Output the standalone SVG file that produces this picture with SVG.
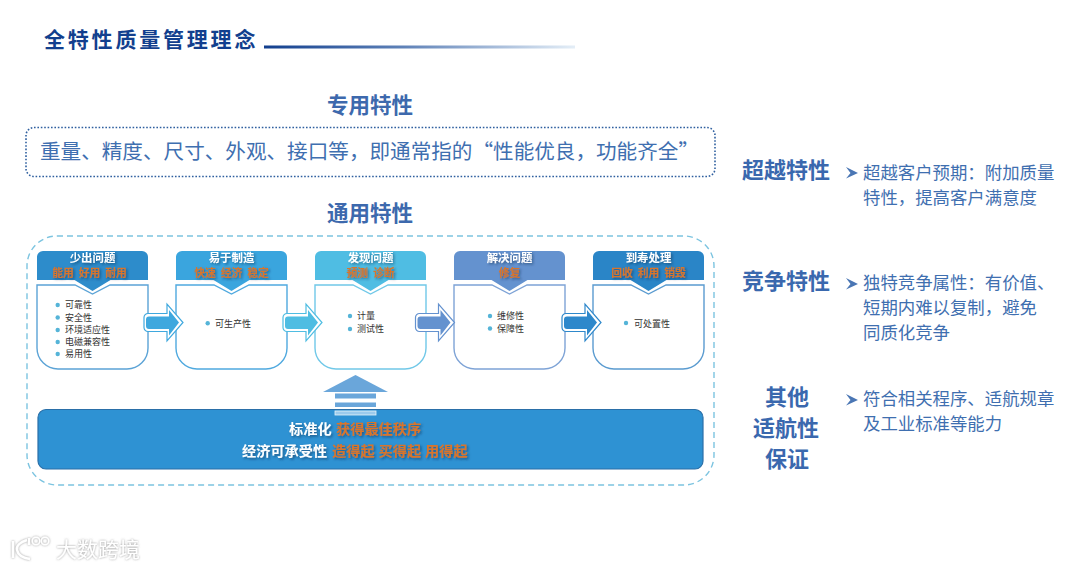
<svg xmlns="http://www.w3.org/2000/svg" width="1080" height="569" viewBox="0 0 1080 569">
<style>
text{font-family:"Noto Sans CJK SC","Noto Sans",sans-serif}
.h{font-size:21.5px;font-weight:700;fill:#3d69ad;text-anchor:middle}
.s{font-size:22px;font-weight:700;fill:#3a68ae;text-anchor:middle}
.r{font-size:17.4px;fill:#3f6fb0}
.ct{font-size:11.400px;font-weight:700;fill:#fff;text-anchor:middle;filter:url(#sh)}
.co{font-size:10.800px;font-weight:700;fill:#d9752b;text-anchor:middle;word-spacing:2.500px;filter:url(#sh)}
.li{font-size:9px;fill:#333}
.dot{fill:#55b4d8}
.bw{font-size:14.2px;font-weight:700;fill:#fff;filter:url(#sh)}
.bo{font-size:14.2px;font-weight:700;fill:#d9752b;filter:url(#sh)}
.chev{fill:#4a76b4;stroke:none}
.body{fill:#fff;stroke-width:1.4}
</style>
<defs>
<linearGradient id="lg"><stop offset="0" stop-color="#123f8e"/><stop offset="0.45" stop-color="#5f82b8"/><stop offset="1" stop-color="#e4eef7"/></linearGradient>
<filter id="sh" x="-20%" y="-30%" width="140%" height="170%"><feDropShadow dx="1.500" dy="1.500" stdDeviation="1.200" flood-color="#0c2a4a" flood-opacity="0.55"/></filter>
<filter id="wm" x="-20%" y="-30%" width="140%" height="160%"><feDropShadow dx="0" dy="0" stdDeviation="1.200" flood-color="#777" flood-opacity="0.8"/></filter>
<path id="hd" d="M0 280V257a6 6 0 0 1 6-6H105a6 6 0 0 1 6 6V280H73.500L55.500 291L37.500 280Z"/>
<path id="bd" d="M0 285H38L55.500 294L73 285H111V348a21 21 0 0 1-21 21H21a21 21 0 0 1-21-21Z"/>
</defs>

<g id="title">
<text x="44" y="47" font-size="21" font-weight="700" letter-spacing="2.800" fill="#123f8e">全特性质量管理理念</text>
<rect x="264" y="45.500" width="311" height="3" fill="url(#lg)"/>
</g>

<g id="special">
<text class="h" x="370" y="113">专用特性</text>
<rect x="26" y="127.500" width="689" height="49" rx="8" fill="#fff" stroke="#2f5f9f" stroke-width="1.600" stroke-dasharray="1.600 1.800"/>
<text x="40" y="159" font-size="20.600" fill="#3f6fb0">重量、精度、尺寸、外观、接口等，即通常指的“性能优良，功能齐全”</text>
</g>

<g id="general">
<text class="h" x="370" y="221">通用特性</text>
<rect x="27" y="236" width="687" height="249" rx="30" fill="#fff" stroke="#7cc4e0" stroke-width="1.400" stroke-dasharray="6 4"/>
</g>

<g id="card1"><g transform="translate(37 0)"><use href="#hd" fill="#2d8ccb"/><use href="#bd" class="body" stroke="#5ba3d6"/></g>
<text class="ct" x="92.500" y="262">少出问题</text><text class="co" x="89.500" y="277">能用 好用 耐用</text>
<circle class="dot" cx="57.700" cy="305" r="2.200"/><text class="li" x="65" y="308">可靠性</text>
<circle class="dot" cx="57.700" cy="317.500" r="2.200"/><text class="li" x="65" y="320.500">安全性</text>
<circle class="dot" cx="57.700" cy="330" r="2.200"/><text class="li" x="65" y="333">环境适应性</text>
<circle class="dot" cx="57.700" cy="342" r="2.200"/><text class="li" x="65" y="345">电磁兼容性</text>
<circle class="dot" cx="57.700" cy="354" r="2.200"/><text class="li" x="65" y="357">易用性</text></g>

<g id="card2"><g transform="translate(176 0)"><use href="#hd" fill="#3aa5de"/><use href="#bd" class="body" stroke="#4fa9df"/></g>
<text class="ct" x="231.500" y="262">易于制造</text><text class="co" x="231.500" y="277">快速 经济 稳定</text>
<circle class="dot" cx="207.700" cy="323.300" r="2.200"/><text class="li" x="215" y="326.500">可生产性</text></g>

<g id="card3"><g transform="translate(315 0)"><use href="#hd" fill="#4fbde3"/><use href="#bd" class="body" stroke="#70c8e8"/></g>
<text class="ct" x="370.500" y="262">发现问题</text><text class="co" x="370.500" y="277">预测 诊断</text>
<circle class="dot" cx="350" cy="316" r="2.200"/><text class="li" x="357" y="319">计量</text>
<circle class="dot" cx="350" cy="329" r="2.200"/><text class="li" x="357" y="332">测试性</text></g>

<g id="card4"><g transform="translate(454 0)"><use href="#hd" fill="#6492cf"/><use href="#bd" class="body" stroke="#7ea3d6"/></g>
<text class="ct" x="509.500" y="262">解决问题</text><text class="co" x="509.500" y="277">修复</text>
<circle class="dot" cx="490" cy="316" r="2.200"/><text class="li" x="497" y="319">维修性</text>
<circle class="dot" cx="490" cy="328.500" r="2.200"/><text class="li" x="497" y="331.500">保障性</text></g>

<g id="card5"><g transform="translate(593 0)"><use href="#hd" fill="#2a85c7"/><use href="#bd" class="body" stroke="#5a9bd0"/></g>
<text class="ct" x="648.500" y="262">到寿处理</text><text class="co" x="648.500" y="277">回收 利用 销毁</text>
<circle class="dot" cx="626" cy="323" r="2.200"/><text class="li" x="634" y="326.500">可处置性</text></g>

<g id="connectors">
<g transform="translate(144 0)"><path d="M4 313.500H23V304L39 322.500L23 341V331.500H4a4 4 0 0 1-4-4V317.500a4 4 0 0 1 4-4Z" fill="#fff" stroke="#3fa8de" stroke-width="1.200"/><path d="M5 316.500H25V310L35 322.500L25 335.500V329H5a3 3 0 0 1-3-3V319.500a3 3 0 0 1 3-3Z" fill="#3fa8de"/></g>
<g transform="translate(283 0)"><path d="M4 313.500H23V304L39 322.500L23 341V331.500H4a4 4 0 0 1-4-4V317.500a4 4 0 0 1 4-4Z" fill="#fff" stroke="#4fbde2" stroke-width="1.200"/><path d="M5 316.500H25V310L35 322.500L25 335.500V329H5a3 3 0 0 1-3-3V319.500a3 3 0 0 1 3-3Z" fill="#4fbde2"/></g>
<g transform="translate(415.500 0)"><path d="M4 313.500H23V304L39 322.500L23 341V331.500H4a4 4 0 0 1-4-4V317.500a4 4 0 0 1 4-4Z" fill="#fff" stroke="#6492cf" stroke-width="1.200"/><path d="M5 316.500H25V310L35 322.500L25 335.500V329H5a3 3 0 0 1-3-3V319.500a3 3 0 0 1 3-3Z" fill="#6492cf"/></g>
<g transform="translate(562 0)"><path d="M4 313.500H23V304L39 322.500L23 341V331.500H4a4 4 0 0 1-4-4V317.500a4 4 0 0 1 4-4Z" fill="#fff" stroke="#2e88cb" stroke-width="1.200"/><path d="M5 316.500H25V310L35 322.500L25 335.500V329H5a3 3 0 0 1-3-3V319.500a3 3 0 0 1 3-3Z" fill="#2e88cb"/></g>
<g id="up-arrow" fill="#6aa6da">
<path d="M355.500 375L388 392H323Z"/>
<rect x="335" y="393.500" width="41" height="5"/>
<rect x="335" y="402.500" width="41" height="4.500"/>
</g>
</g>

<g id="band">
<rect x="38" y="409.500" width="665" height="59.500" rx="8" fill="#2e92d3" stroke="#2a6fa8" stroke-width="1.200"/>
<rect x="335" y="411" width="41" height="4" fill="#9ccbec" stroke="#e8f4fb" stroke-width="0.800"/>
<text class="bw" x="289" y="433.500">标准化</text><text class="bo" x="336" y="433.500">获得最佳秩序</text>
<text class="bw" x="242" y="455.500">经济可承受性</text><text class="bo" x="332" y="455.500">造得起</text><text class="bo" x="378.500" y="455.500">买得起</text><text class="bo" x="425" y="455.500">用得起</text>
</g>

<g id="beyond">
<text class="s" x="786" y="178">超越特性</text>
<path class="chev" d="M846 167L858 173L846 178.500L850.500 173Z"/>
<text class="r" x="863" y="179">超越客户预期：附加质量</text>
<text class="r" x="863" y="204">特性，提高客户满意度</text>
</g>
<g id="compete">
<text class="s" x="786" y="289">竞争特性</text>
<path class="chev" d="M846 278L858 284L846 289.500L850.500 284Z"/>
<text class="r" x="863" y="289">独特竞争属性：有价值、</text>
<text class="r" x="863" y="314">短期内难以复制，避免</text>
<text class="r" x="863" y="339">同质化竞争</text>
</g>
<g id="other">
<text class="s" x="787" y="405">其他</text>
<text class="s" x="786" y="436">适航性</text>
<text class="s" x="787" y="467">保证</text>
<path class="chev" d="M846 394L858 400L846 405.500L850.500 400Z"/>
<text class="r" x="863" y="405">符合相关程序、适航规章</text>
<text class="r" x="863" y="430">及工业标准等能力</text>
</g>

<g id="watermark" filter="url(#wm)">
<path d="M13 541V558M27 540C20 542 16 546 17 550C18 555 23 558 30 559M29 545V538" fill="none" stroke="#fff" stroke-width="2.400"/>
<circle cx="36" cy="541" r="3.800" fill="none" stroke="#fff" stroke-width="1.500"/><circle cx="45" cy="541" r="3.800" fill="none" stroke="#fff" stroke-width="1.500"/>
<text x="56" y="557" font-size="21" fill="#fff">大数跨境</text>
</g>
</svg>
